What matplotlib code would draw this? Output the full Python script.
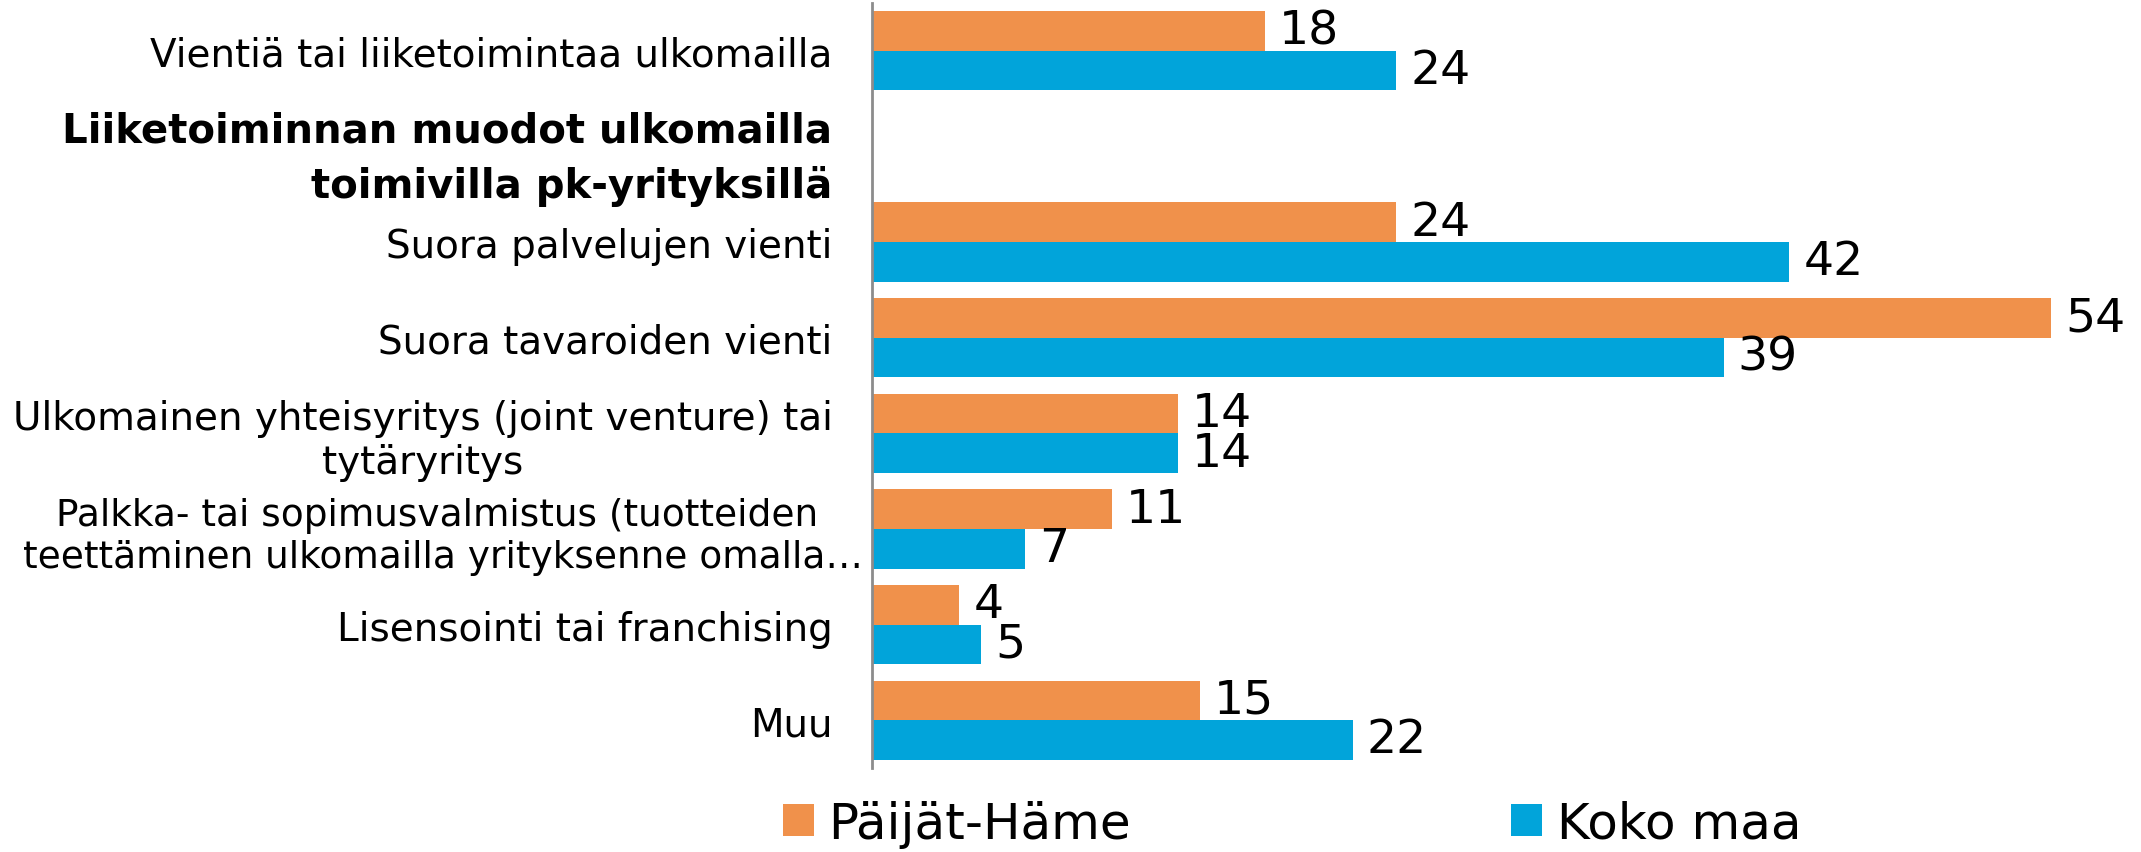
import numpy as np
import matplotlib
matplotlib.use("Agg")
import matplotlib.pyplot as plt
from matplotlib.transforms import ScaledTranslation

categories = [
    "Vientiä tai liiketoimintaa ulkomailla",
    "Liiketoiminnan muodot ulkomailla\ntoimivilla pk-yrityksillä",
    "Suora palvelujen vienti",
    "Suora tavaroiden vienti",
    "Ulkomainen yhteisyritys (joint venture) tai\ntytäryritys",
    "Palkka- tai sopimusvalmistus (tuotteiden \nteettäminen ulkomailla yrityksenne omalla…",
    "Lisensointi tai franchising",
    "Muu",
]
paijat_hame = [18, np.nan, 24, 54, 14, 11, 4, 15]
koko_maa = [24, np.nan, 42, 39, 14, 7, 5, 22]
series_names = ["Päijät-Häme", "Koko maa"]

ORANGE = "#F0914B"
BLUE = "#01A4DA"
plt.rcParams["font.family"] = ["DejaVu Sans"]

W, H = 2141, 853
fig = plt.figure(figsize=(W / 100, H / 100), dpi=100)
x0, ytop, ybot = 872, 4, 769
ax = fig.add_axes([x0 / W, 1 - ybot / H, 1 - x0 / W, (ybot - ytop) / H])

y = np.arange(len(categories))
h = 0.414
b1 = ax.barh(y - h / 2, paijat_hame, height=h, color=ORANGE, label=series_names[0])
b2 = ax.barh(y + h / 2, koko_maa, height=h, color=BLUE, label=series_names[1])

def labs(vals):
    return ["" if np.isnan(v) else f"{v:.0f}" for v in vals]

ax.bar_label(b1, labels=labs(paijat_hame), padding=10, fontsize=34)
ax.bar_label(b2, labels=labs(koko_maa), padding=10, fontsize=34)

ax.set_ylim(len(categories) - 0.5, -0.5)
ax.set_xlim(0, 58.1)
ax.set_xticks([])
ax.set_yticks(y, categories)
ax.tick_params(axis="y", length=0, pad=28.5, labelsize=28)
for s in ["top", "right", "bottom"]:
    ax.spines[s].set_visible(False)
ax.spines["left"].set_color("#8c8c8c")
ax.spines["left"].set_linewidth(2)

tls = ax.get_yticklabels()
for i, t in enumerate(tls):
    t.set_multialignment("center")
tls[1].set_fontweight("bold")
tls[1].set_fontsize(29)
tls[1].set_multialignment("right")
tls[1].set_linespacing(1.45)
tls[5].set_fontsize(27)
tls[5].set_transform(tls[5].get_transform() + ScaledTranslation(0.31, 0, fig.dpi_scale_trans))

fig.legend(handles=[b1, b2], labels=series_names, loc="center",
           bbox_to_anchor=(0.6035, 0.033), ncol=2, frameon=False, fontsize=36,
           handlelength=0.62, handleheight=0.62, handletextpad=0.3,
           columnspacing=7.6, borderpad=0, borderaxespad=0)

fig.savefig("out.png", dpi=100)
